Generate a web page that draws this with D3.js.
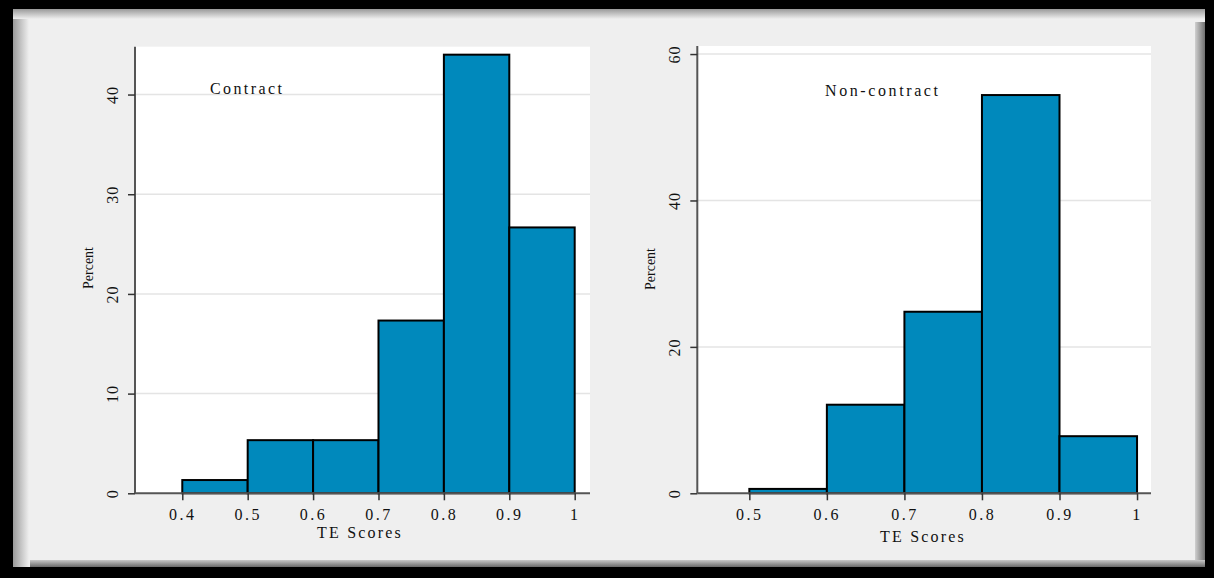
<!DOCTYPE html>
<html>
<head>
<meta charset="utf-8">
<script src="https://cdn.jsdelivr.net/npm/d3@7"></script>
<style>
  html, body { margin: 0; padding: 0; background: #000; }
  svg { display: block; }
  text { font-family: "Liberation Serif", "DejaVu Serif", serif; fill: #111; }
</style>
</head>
<body>
<svg id="chart" width="1214" height="578"></svg>
<script>
// ---- data ----
const contractStarts = [0.4, 0.5, 0.6, 0.7, 0.8, 0.9];
const contractPercent = [1.33, 5.33, 5.33, 17.33, 44.0, 26.67];
const noncontractStarts = [0.5, 0.6, 0.7, 0.8, 0.9];
const noncontractPercent = [0.6, 12.1, 24.8, 54.4, 7.8];
const contractXTicks = [0.4, 0.5, 0.6, 0.7, 0.8, 0.9, 1];
const noncontractXTicks = [0.5, 0.6, 0.7, 0.8, 0.9, 1];
const contractYTicks = [0, 10, 20, 30, 40];
const noncontractYTicks = [0, 20, 40, 60];
const binWidth = 0.1;

const svg = d3.select("#chart");

// ---- frame ----
const defs = svg.append("defs");
const gl = defs.append("linearGradient").attr("id", "shL").attr("x1", 0).attr("x2", 1).attr("y1", 0).attr("y2", 0);
gl.append("stop").attr("offset", 0).attr("stop-color", "#9a9a9a");
gl.append("stop").attr("offset", 1).attr("stop-color", "#efefef");
const gt = defs.append("linearGradient").attr("id", "shT").attr("x1", 0).attr("x2", 0).attr("y1", 0).attr("y2", 1);
gt.append("stop").attr("offset", 0).attr("stop-color", "#9a9a9a");
gt.append("stop").attr("offset", 1).attr("stop-color", "#efefef");
const gr = defs.append("linearGradient").attr("id", "shR").attr("x1", 0).attr("x2", 1).attr("y1", 0).attr("y2", 0);
gr.append("stop").attr("offset", 0).attr("stop-color", "#d0d0d0");
gr.append("stop").attr("offset", 1).attr("stop-color", "#707070");
const gb = defs.append("linearGradient").attr("id", "shB").attr("x1", 0).attr("x2", 0).attr("y1", 0).attr("y2", 1);
gb.append("stop").attr("offset", 0).attr("stop-color", "#c8c8c8");
gb.append("stop").attr("offset", 1).attr("stop-color", "#6a6a6a");

svg.append("rect").attr("x", 0).attr("y", 0).attr("width", 1214).attr("height", 578).attr("fill", "#000");
svg.append("rect").attr("x", 13).attr("y", 9).attr("width", 1192).attr("height", 558).attr("fill", "#efefef");
svg.append("rect").attr("x", 13).attr("y", 9).attr("width", 16).attr("height", 558).attr("fill", "url(#shL)");
svg.append("rect").attr("x", 13).attr("y", 9).attr("width", 1192).attr("height", 10).attr("fill", "url(#shT)");
svg.append("rect").attr("x", 1195).attr("y", 22).attr("width", 10).attr("height", 545).attr("fill", "url(#shR)");
svg.append("rect").attr("x", 30).attr("y", 560).attr("width", 1175).attr("height", 7).attr("fill", "url(#shB)");

function panel(cfg) {
  const x = d3.scaleLinear().domain(cfg.xDomain).range([cfg.left, cfg.right]);
  const y = d3.scaleLinear().domain(cfg.yDomain).range([cfg.bottom, cfg.top]);
  const g = svg.append("g");

  g.append("rect").attr("x", cfg.left).attr("y", cfg.top)
    .attr("width", cfg.right - cfg.left).attr("height", cfg.bottom - cfg.top).attr("fill", "#fff");

  // gridlines
  g.selectAll(".grid").data(cfg.yTicks.filter(d => d > 0)).enter().append("line")
    .attr("x1", cfg.left).attr("x2", cfg.right)
    .attr("y1", d => y(d)).attr("y2", d => y(d))
    .attr("stroke", "#e4e4e4").attr("stroke-width", 1.5);

  // bars
  g.selectAll(".bar").data(cfg.starts.map((s, i) => ({ s, v: cfg.values[i] }))).enter().append("rect")
    .attr("x", d => x(d.s)).attr("width", d => x(d.s + binWidth) - x(d.s))
    .attr("y", d => y(d.v)).attr("height", d => y(0) - y(d.v))
    .attr("fill", "#0089bc").attr("stroke", "#000").attr("stroke-width", 2);

  // axes
  const yAxis = d3.axisLeft(y).tickValues(cfg.yTicks).tickSize(7).tickFormat(d3.format("d"));
  const ya = g.append("g").attr("transform", `translate(${cfg.left},0)`).call(yAxis);
  ya.select(".domain").attr("stroke", "#555").attr("stroke-width", 2)
    .attr("d", `M0,${cfg.top}V${cfg.bottom}`);
  ya.selectAll(".tick line").attr("stroke", "#333").attr("stroke-width", 1.5);
  ya.selectAll(".tick text")
    .attr("x", 0).attr("dy", null)
    .attr("transform", `translate(-23,0) rotate(-90)`)
    .attr("text-anchor", "middle")
    .attr("dominant-baseline", "central")
    .style("font-family", "Liberation Serif, serif")
    .style("font-size", "16px").attr("fill", "#222").style("letter-spacing", "1px");

  const xAxis = d3.axisBottom(x).tickValues(cfg.xTicks).tickSize(7).tickFormat(d => d === 1 ? "1" : d3.format(".1f")(d));
  const xa = g.append("g").attr("transform", `translate(0,${cfg.bottom})`).call(xAxis);
  xa.select(".domain").attr("stroke", "#555").attr("stroke-width", 2)
    .attr("d", `M${cfg.left},0H${cfg.right}`);
  xa.selectAll(".tick line").attr("stroke", "#333").attr("stroke-width", 1.5);
  xa.selectAll(".tick text").attr("y", 15).attr("dy", "0.71em")
    .style("font-family", "Liberation Serif, serif")
    .style("font-size", "16px").attr("fill", "#111").style("letter-spacing", "2.5px");

  // axis titles
  g.append("text").attr("x", cfg.xTitleX).attr("y", cfg.xTitleY).attr("text-anchor", "middle")
    .style("font-size", "16px").style("letter-spacing", "2.2px").text("TE Scores");
  g.append("text").attr("transform", `translate(${cfg.yTitleX},${cfg.yTitleY}) rotate(-90)`)
    .attr("text-anchor", "middle").attr("dominant-baseline", "central")
    .style("font-size", "14px").attr("textLength", 42).attr("lengthAdjust", "spacingAndGlyphs").text("Percent");

  // annotation
  g.append("text").attr("x", cfg.labelX).attr("y", cfg.labelY)
    .style("font-size", "16px").style("letter-spacing", cfg.labelSpacing).text(cfg.label);
}

panel({
  left: 135, right: 590, top: 46.7, bottom: 493.3,
  xDomain: [0.3277, 1.0234], yDomain: [0, 44.8],
  starts: contractStarts, values: contractPercent,
  xTicks: contractXTicks, yTicks: contractYTicks,
  xTitleX: 360, xTitleY: 538, yTitleX: 88, yTitleY: 268,
  label: "Contract", labelX: 210, labelY: 94, labelSpacing: "2.4px"
});

panel({
  left: 697.3, right: 1151, top: 46, bottom: 493.3,
  xDomain: [0.4329, 1.018], yDomain: [0, 61.1],
  starts: noncontractStarts, values: noncontractPercent,
  xTicks: noncontractXTicks, yTicks: noncontractYTicks,
  xTitleX: 923, xTitleY: 542, yTitleX: 650, yTitleY: 269,
  label: "Non-contract", labelX: 825, labelY: 96, labelSpacing: "2.6px"
});
</script>
</body>
</html>
